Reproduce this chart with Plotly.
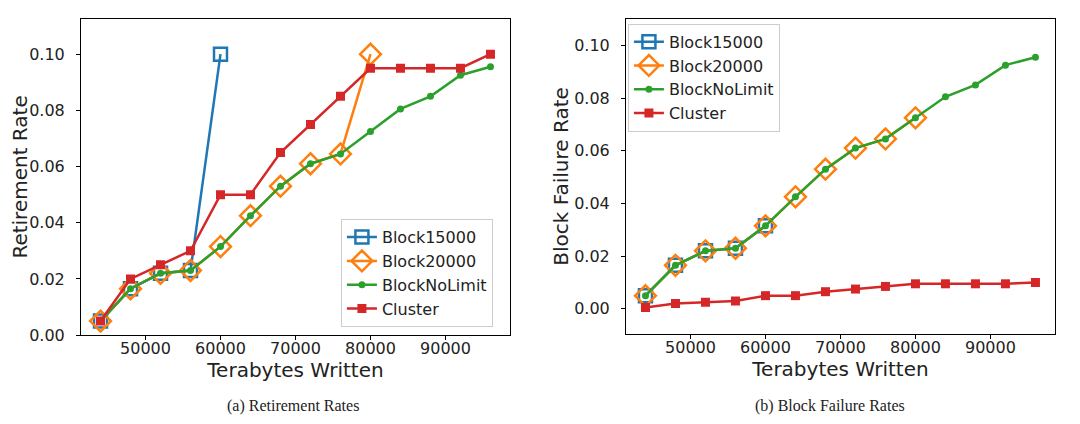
import plotly.graph_objects as go

tb_written = [44000, 48000, 52000, 56000, 60000, 64000, 68000, 72000, 76000,
              80000, 84000, 88000, 92000, 96000]

# Retirement rates (a)
ret_block15000 = [0.005, 0.0165, 0.022, 0.023, 0.100]
ret_block20000 = [0.005, 0.0165, 0.022, 0.023, 0.0315, 0.0425, 0.053, 0.061, 0.0645, 0.100]
ret_nolimit = [0.005, 0.0165, 0.022, 0.023, 0.0315, 0.0425, 0.053, 0.061, 0.0645,
               0.0725, 0.0805, 0.085, 0.0925, 0.0955]
ret_cluster = [0.005, 0.020, 0.025, 0.030, 0.050, 0.050, 0.065, 0.075, 0.085,
               0.095, 0.095, 0.095, 0.095, 0.100]

# Block failure rates (b)
bf_block15000 = [0.005, 0.0165, 0.022, 0.023, 0.0315]
bf_block20000 = [0.005, 0.0165, 0.022, 0.023, 0.0315, 0.0425, 0.053, 0.061, 0.0645, 0.0725]
bf_nolimit = [0.005, 0.0165, 0.022, 0.023, 0.0315, 0.0425, 0.053, 0.061, 0.0645,
              0.0725, 0.0805, 0.085, 0.0925, 0.0955]
bf_cluster = [0.0005, 0.002, 0.0025, 0.003, 0.005, 0.005, 0.0065, 0.0075, 0.0085,
              0.0095, 0.0095, 0.0095, 0.0095, 0.010]

series_names = ["Block15000", "Block20000", "BlockNoLimit", "Cluster"]
x_ticks = [50000, 60000, 70000, 80000, 90000]
x_tick_labels = ["50000", "60000", "70000", "80000", "90000"]
y_ticks = [0.00, 0.02, 0.04, 0.06, 0.08, 0.10]
captions = ["(a) Retirement Rates", "(b) Block Failure Rates"]

colors = ["#1f77b4", "#ff7f0e", "#2ca02c", "#d62728"]
markers = [
    dict(symbol="square-open", size=13, line=dict(width=2.5)),
    dict(symbol="diamond-open", size=16, line=dict(width=2.5)),
    dict(symbol="circle", size=7),
    dict(symbol="square", size=9),
]

fig = go.Figure()
FONT = "DejaVu Sans"

panels = [
    ([ret_block15000, ret_block20000, ret_nolimit, ret_cluster], "x", "y", "legend"),
    ([bf_block15000, bf_block20000, bf_nolimit, bf_cluster], "x2", "y2", "legend2"),
]
for data, xa, ya, lg in panels:
    for i, ys in enumerate(data):
        mk = dict(markers[i])
        mk["color"] = colors[i]
        fig.add_trace(go.Scatter(
            x=tb_written[:len(ys)], y=ys, name=series_names[i], mode="lines+markers",
            line=dict(color=colors[i], width=2.5), marker=mk,
            xaxis=xa, yaxis=ya, legend=lg))

axis_common = dict(
    showline=True, linecolor="black", linewidth=1, mirror=True,
    ticks="outside", ticklen=4, tickcolor="black", showgrid=False, zeroline=False,
    tickfont=dict(family=FONT, size=16, color="#222"),
)
TITLE_FONT = dict(family=FONT, size=20, color="#222")
xr = [41400, 98600]
fig.update_layout(
    width=1080, height=424, margin=dict(l=0, r=0, t=0, b=0),
    plot_bgcolor="white", paper_bgcolor="white",
    xaxis=dict(domain=[0.0676, 0.4648], range=xr, tickvals=x_ticks, ticktext=x_tick_labels,
               anchor="y", ticklabelstandoff=-5,
               title=dict(text="Terabytes Written", font=TITLE_FONT, standoff=1),
               **axis_common),
    yaxis=dict(domain=[0.2099, 0.974], range=[0, 0.1126], tickvals=y_ticks, tickformat=".2f", anchor="x",
               ticklabelstandoff=8,
               title=dict(text="Retirement Rate", font=TITLE_FONT, standoff=0),
               **axis_common),
    xaxis2=dict(domain=[0.5722, 0.9694], range=xr, tickvals=x_ticks, ticktext=x_tick_labels,
                anchor="y2", ticklabelstandoff=-5,
                title=dict(text="Terabytes Written", font=TITLE_FONT, standoff=1),
                **axis_common),
    yaxis2=dict(domain=[0.2123, 0.974], range=[-0.0096, 0.1101], tickvals=y_ticks, tickformat=".2f", anchor="x2",
                ticklabelstandoff=8,
                title=dict(text="Block Failure Rate", font=TITLE_FONT, standoff=0),
                **axis_common),
    legend=dict(x=0.449, y=0.229, xanchor="right", yanchor="bottom",
                bgcolor="rgba(255,255,255,0.8)", bordercolor="#cccccc", borderwidth=1,
                font=dict(family=FONT, size=16, color="#222")),
    legend2=dict(x=0.574, y=0.962, xanchor="left", yanchor="top",
                 bgcolor="rgba(255,255,255,0.8)", bordercolor="#cccccc", borderwidth=1,
                 font=dict(family=FONT, size=16, color="#222")),
)

for cx, text in zip([0.264, 0.761], captions):
    fig.add_annotation(x=cx, y=16 / 424, xref="paper", yref="paper", text=text,
                       showarrow=False, xanchor="center", yanchor="middle",
                       font=dict(family="Liberation Serif", size=16, color="#222"))

fig.write_html("out.html")
